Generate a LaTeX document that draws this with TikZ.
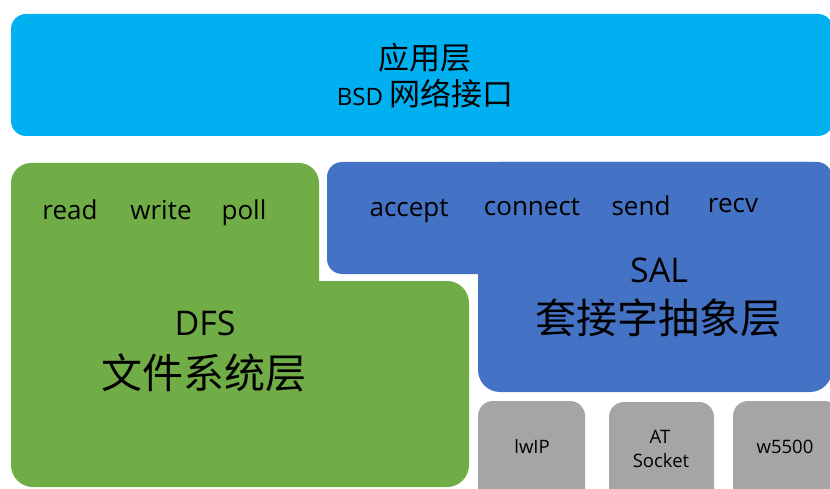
\documentclass[tikz,border=0pt]{standalone}
\usepackage{fontspec}
\setmainfont{Open Sans}
\newfontfamily\cjk{Noto Sans CJK SC}
\definecolor{appblue}{HTML}{00B0F0}
\definecolor{dfsgreen}{HTML}{70AD47}
\definecolor{salblue}{HTML}{4472C4}
\definecolor{drvgray}{HTML}{A5A5A5}

\begin{document}
\begin{tikzpicture}[x=1pt, y=-1pt,
  t/.style={anchor=base, inner sep=0pt, font=\fontsize{26}{30}\selectfont},
  hd/.style={anchor=base, inner sep=0pt, font=\fontsize{34}{40}\selectfont},
  zh/.style={anchor=base, inner sep=0pt, font=\cjk\fontsize{41}{48}\selectfont},
  dv/.style={anchor=base, inner sep=0pt, font=\fontsize{18.5}{22}\selectfont},
  bx/.style={fill=drvgray, rounded corners=15pt}]
\useasboundingbox (0,0) rectangle (830,489);
% application layer
\fill[appblue, rounded corners=15pt] (11,14) rectangle (833,136);
\node[anchor=base, inner sep=0pt, font=\cjk\fontsize{31}{36}\selectfont] (app) at (425,70) {应用层};
\node[anchor=base, inner sep=0pt, font=\fontsize{24}{28}\selectfont] (bsd) at (425,106)
  {BSD {\cjk\fontsize{31}{36}\selectfont 网络接口}};
% DFS
\fill[dfsgreen, rounded corners=20pt] (11,163) rectangle (319,330);
\fill[dfsgreen, rounded corners=22pt] (11,281) rectangle (469,487);
\node[t] (rd) at (70,220) {read};
\node[t] (wr) at (161,220) {write};
\node[t] (pl) at (244,220) {poll};
\node[hd] (dfs) at (205,335) {DFS};
\node[zh] (dfszh) at (204,388) {文件系统层};
% SAL
\fill[salblue, rounded corners=15pt] (327,162) rectangle (832,274);
\fill[salblue, rounded corners=22pt] (478,162) rectangle (832,392);
\node[t] (ac) at (409,217) {accept};
\node[t] (cn) at (532,216) {connect};
\node[t] (sd) at (641,215) {send};
\node[t] (rv) at (733,213) {recv};
\node[hd] (sal) at (659,282) {SAL};
\node[zh] (salzh) at (658,333) {套接字抽象层};
% drivers
\fill[bx] (478,401) rectangle (585,505);
\fill[bx] (609,402) rectangle (714,505);
\fill[bx] (733,401) rectangle (840,505);
\node[dv] (lw) at (532,453) {lwIP};
\node[dv] (at) at (660,443) {AT};
\node[dv] (sk) at (661,467) {Socket};
\node[dv] (w5) at (785,453) {w5500};
\end{tikzpicture}
\end{document}
